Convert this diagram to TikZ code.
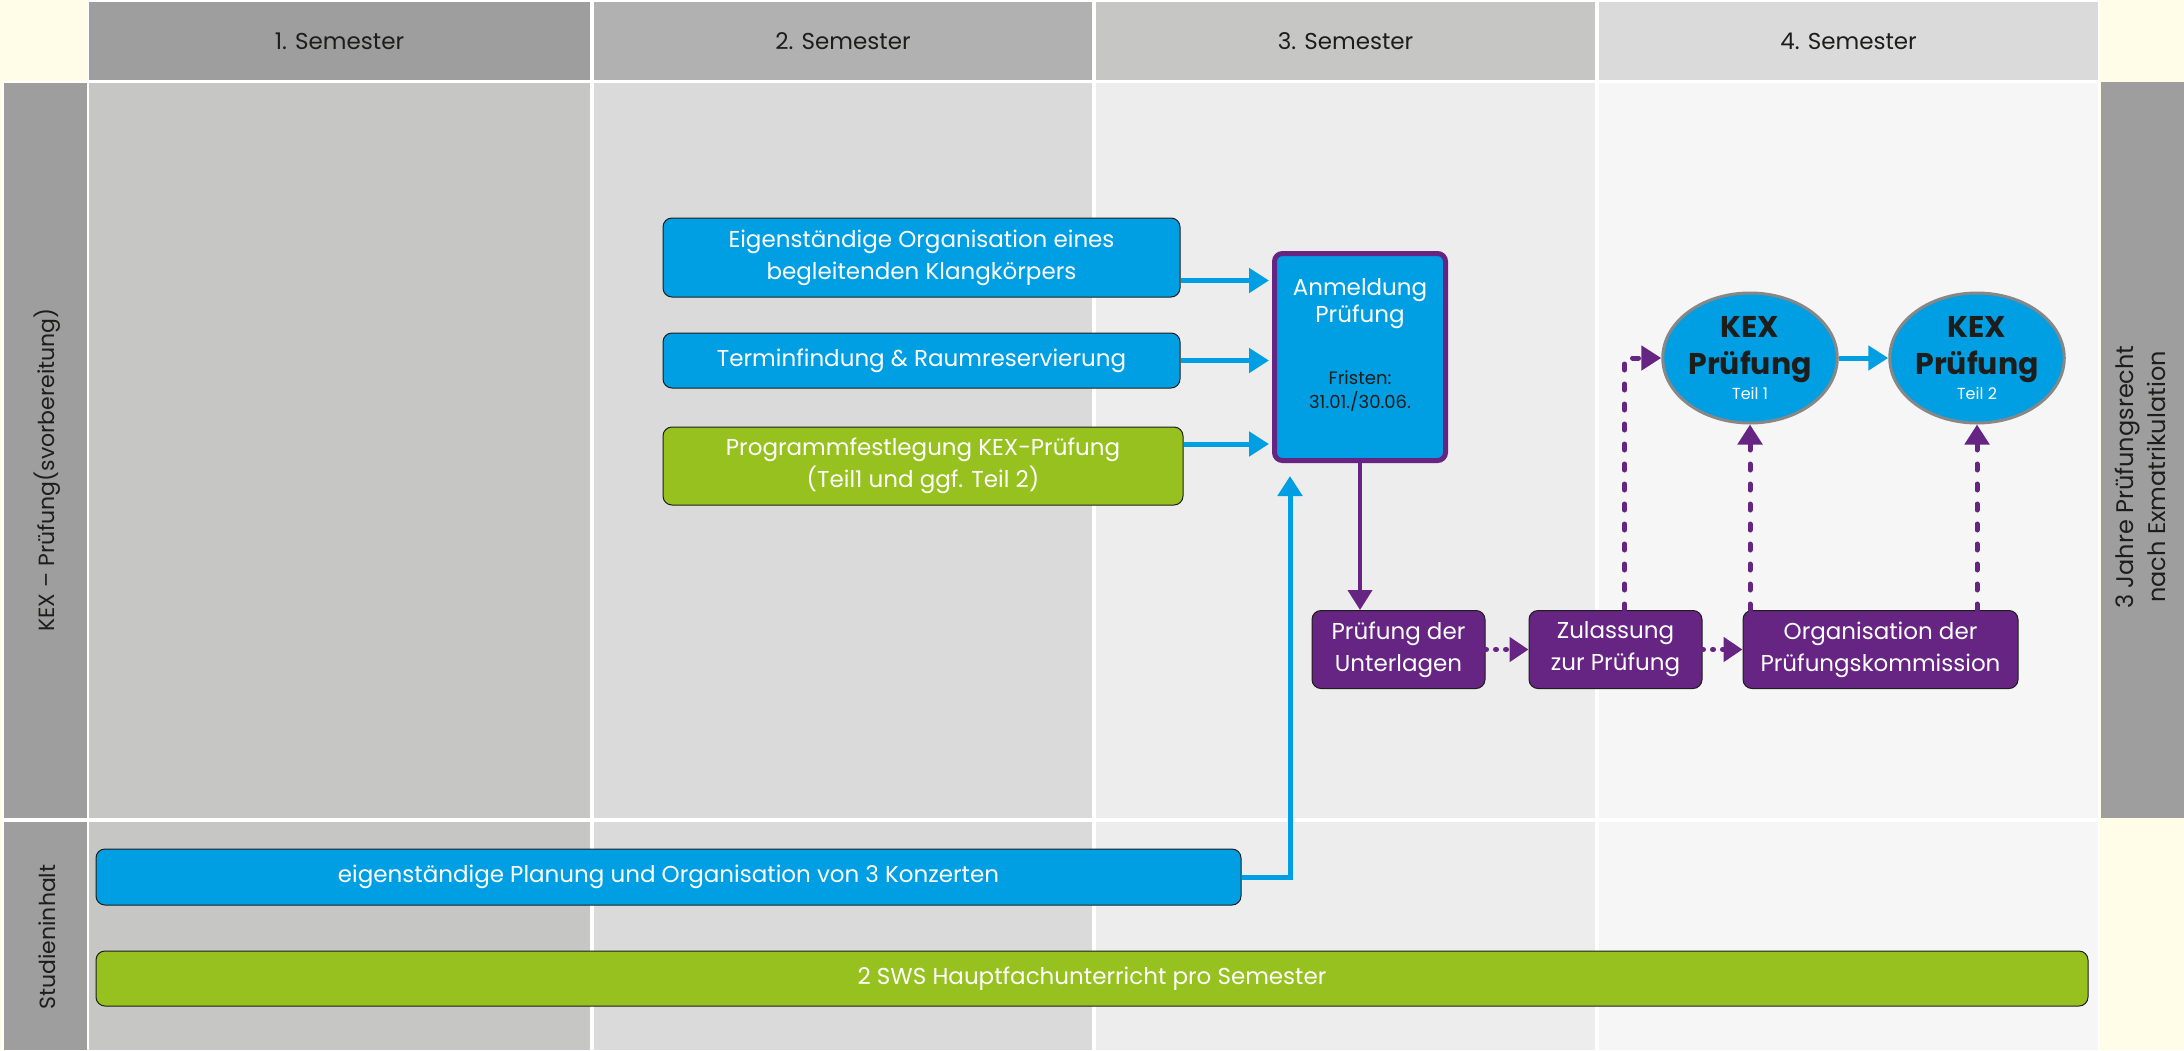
\documentclass[tikz,border=0pt]{standalone}
\usepackage{fontspec}
\setmainfont{Poppins}
\usepackage{xcolor}
\usetikzlibrary{positioning,shapes.geometric,arrows.meta,calc}

\definecolor{cream}{HTML}{FFFDE7}
\definecolor{hdrA}{HTML}{9E9E9E}
\definecolor{hdrB}{HTML}{B1B1B1}
\definecolor{hdrC}{HTML}{C6C6C5}
\definecolor{hdrD}{HTML}{DADADA}
\definecolor{bodyA}{HTML}{C6C6C5}
\definecolor{bodyB}{HTML}{DADADA}
\definecolor{bodyC}{HTML}{EDEDED}
\definecolor{bodyD}{HTML}{F6F6F6}
\definecolor{kexblue}{HTML}{009FE3}
\definecolor{kexgreen}{HTML}{97C11F}
\definecolor{kexpurple}{HTML}{662483}
\definecolor{txtdark}{HTML}{1D1D1B}
\definecolor{ringgray}{HTML}{878787}

\begin{document}
\begin{tikzpicture}[x=1pt,y=-1pt,
    every node/.style={inner sep=0pt},
    boxfont/.style={font=\fontsize{23}{32}\selectfont},
    semhead/.style={boxfont,text=txtdark,minimum height=78pt},
    sidehead/.style={font=\fontsize{22}{32}\selectfont,text=txtdark,rotate=90,align=center},
    bluebox/.style={boxfont,draw=txtdark,line width=1pt,rounded corners=9pt,fill=kexblue,text=white,align=center},
    greenbox/.style={bluebox,fill=kexgreen},
    purplebox/.style={bluebox,fill=kexpurple},
    anmbox/.style={draw=kexpurple,line width=5pt,rounded corners=8pt,fill=kexblue,minimum width=171pt,minimum height=207pt},
    kexring/.style={ellipse,draw=ringgray,line width=3pt,fill=kexblue,minimum width=170pt,minimum height=130pt,align=center,text=txtdark,font=\bfseries\fontsize{30}{37}\selectfont},
    bluearr/.style={draw=kexblue,line width=5pt,-{Triangle[length=20pt,width=24pt]}},
    purplearr/.style={draw=kexpurple,line width=4pt,-{Triangle[length=20pt,width=24pt]}},
    dotarr/.style={draw=kexpurple,line width=5pt,line cap=round,dash pattern=on 6pt off 14pt,-{Triangle[length=20pt,width=24pt]}},
    dotshort/.style={draw=kexpurple,line width=5pt,line cap=round,dash pattern=on 1pt off 9pt,-{Triangle[length=19pt,width=24pt]}},
]
\useasboundingbox (0,0) rectangle (2184,1050);
\fill[cream] (0,0) rectangle (2184,1050);
\fill[white] (88,0) rectangle (2100,1050);
\fill[white] (2,81) rectangle (88,1050);

\fill[bodyA] (89,83) rectangle (590,818);
\fill[bodyB] (594,83) rectangle (1092,818);
\fill[bodyC] (1096,83) rectangle (1595,818);
\fill[bodyD] (1599,83) rectangle (2098,818);
\fill[bodyA] (89,822) rectangle (590,1050);
\fill[bodyB] (594,822) rectangle (1092,1050);
\fill[bodyC] (1096,822) rectangle (1595,1050);
\fill[bodyD] (1599,822) rectangle (2098,1050);
\fill[hdrA] (4,83) rectangle (87,818);
\fill[hdrA] (4,822) rectangle (87,1050);
\fill[hdrA] (2101,82) rectangle (2184,818);

\node[semhead,fill=hdrA,minimum width=501pt] (sem1) at (339.5,41) {1. Semester};
\node[semhead,fill=hdrB,minimum width=498pt] (sem2) at (843,41) {2. Semester};
\node[semhead,fill=hdrC,minimum width=499pt] (sem3) at (1345.5,41) {3. Semester};
\node[semhead,fill=hdrD,minimum width=499pt] (sem4) at (1848.5,41) {4. Semester};

\node[sidehead] (kexside) at (47,470) {KEX – Prüfung(svorbereitung)};
\node[sidehead] (studside) at (47,937) {Studieninhalt};
\node[sidehead,font=\fontsize{24}{32}\selectfont] (jahre) at (2140,477) {3 Jahre Prüfungsrecht\\nach Exmatrikulation};

\node[bluebox,minimum width=517pt,minimum height=79pt] (orga) at (921.5,257.5) {Eigenständige Organisation eines\\begleitenden Klangkörpers};
\node[bluebox,minimum width=517pt,minimum height=55pt] (termin) at (921.5,360.5) {Terminfindung \& Raumreservierung};
\node[greenbox,minimum width=520pt,minimum height=78pt] (programm) at (923,466) {Programmfestlegung KEX-Prüfung\\(Teil1 und ggf. Teil 2)};

\node[anmbox] (anm) at (1360,357) {};
\node[boxfont,text=white,align=center,below=27pt of anm.north] (anmtitle) {Anmeldung\\[-5pt]Prüfung};
\node[font=\fontsize{18}{24}\selectfont,text=txtdark,align=center,below=42pt of anmtitle] (fristen) {Fristen:\\31.01./30.06.};

\node[purplebox,minimum width=173pt,minimum height=78pt] (unterlagen) at (1398.5,649.5) {Prüfung der\\Unterlagen};
\node[purplebox,minimum width=173pt,minimum height=78pt] (zulassung) at (1615.5,649.5) {Zulassung\\zur Prüfung};
\node[purplebox,minimum width=275pt,minimum height=78pt] (kommission) at (1880.5,649.5) {Organisation der\\Prüfungskommission};

\node[kexring] (kex1) at (1750,358) {KEX\\Prüfung\\[-12pt]{\mdseries\fontsize{16}{16}\selectfont\textcolor{white}{Teil 1}}};
\node[kexring] (kex2) at (1977,358) {KEX\\Prüfung\\[-12pt]{\mdseries\fontsize{16}{16}\selectfont\textcolor{white}{Teil 2}}};

\node[bluebox,minimum width=1145pt,minimum height=56pt] (konzerte) at (668.5,877) {eigenständige Planung und Organisation von 3 Konzerten};
\node[greenbox,minimum width=1992pt,minimum height=55pt] (sws) at (1092,978.5) {2 SWS Hauptfachunterricht pro Semester};

\draw[bluearr,shorten >=3pt] ([yshift=-23pt]orga.east) -- ([yshift=-23pt]orga.east -| anm.west);
\draw[bluearr,shorten >=3pt] (termin.east) -- (termin.east -| anm.west);
\draw[bluearr,shorten >=3pt] ([yshift=22pt]programm.east) -- ([yshift=22pt]programm.east -| anm.west);
\draw[bluearr,shorten >=13pt] (konzerte.east) -| ([xshift=-70pt]anm.south);
\draw[purplearr] (anm.south) -- (anm.south |- unterlagen.north);
\draw[dotshort] (unterlagen) -- (zulassung);
\draw[dotshort] (zulassung) -- (kommission);
\draw[dotarr] ([xshift=9pt]zulassung.north) |- (kex1.west);
\draw[dotarr] (kommission.north -| kex1.south) -- (kex1.south);
\draw[dotarr] (kommission.north -| kex2.south) -- (kex2.south);
\draw[bluearr] (kex1) -- (kex2);
\end{tikzpicture}
\end{document}
